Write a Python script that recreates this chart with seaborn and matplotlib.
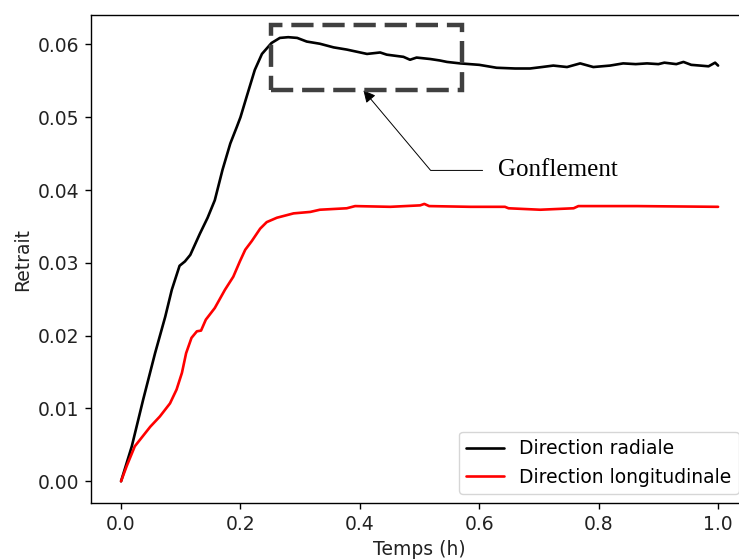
import pandas as pd
import matplotlib
matplotlib.use("Agg")
import matplotlib.pyplot as plt
import matplotlib.patches as patches
import seaborn as sns

# Direction radiale (black curve)
temps_radial = [0.000, 0.018, 0.037, 0.057, 0.074, 0.085, 0.098, 0.107, 0.116, 0.132,
                0.145, 0.157, 0.170, 0.183, 0.194, 0.200, 0.211, 0.224, 0.236, 0.252,
                0.266, 0.280, 0.295, 0.311, 0.333, 0.356, 0.378, 0.412, 0.434, 0.445,
                0.473, 0.484, 0.495, 0.518, 0.534, 0.546, 0.568, 0.600, 0.629, 0.660,
                0.685, 0.705, 0.724, 0.747, 0.769, 0.791, 0.819, 0.841, 0.862, 0.881,
                0.900, 0.910, 0.930, 0.942, 0.955, 0.970, 0.984, 0.995, 1.000]
retrait_radial = [0.0000, 0.0048, 0.0112, 0.0176, 0.0226, 0.0263, 0.0296, 0.0302, 0.0311, 0.0340,
                  0.0362, 0.0386, 0.0428, 0.0464, 0.0487, 0.0500, 0.0530, 0.0565, 0.0587, 0.0602,
                  0.0609, 0.0610, 0.0609, 0.0604, 0.0601, 0.0596, 0.0593, 0.0587, 0.0589, 0.0586,
                  0.0583, 0.0579, 0.0582, 0.0580, 0.0578, 0.0576, 0.0574, 0.0572, 0.0568, 0.0567,
                  0.0567, 0.0569, 0.0571, 0.0569, 0.0574, 0.0569, 0.0571, 0.0574, 0.0573, 0.0574,
                  0.0573, 0.0575, 0.0573, 0.0576, 0.0572, 0.0571, 0.0570, 0.0575, 0.0571]

# Direction longitudinale (red curve)
temps_long = [0.000, 0.0095, 0.023, 0.049, 0.065, 0.082, 0.093, 0.102, 0.109, 0.118,
              0.127, 0.134, 0.142, 0.157, 0.174, 0.188, 0.199, 0.208, 0.219, 0.233,
              0.244, 0.261, 0.289, 0.317, 0.333, 0.378, 0.392, 0.451, 0.501, 0.508,
              0.516, 0.585, 0.643, 0.649, 0.702, 0.758, 0.766, 0.864, 1.000]
retrait_long = [0.0000, 0.0021, 0.0048, 0.0075, 0.0089, 0.0107, 0.0126, 0.0149, 0.0176, 0.0197,
                0.0206, 0.0207, 0.0222, 0.0238, 0.0263, 0.0281, 0.0302, 0.0318, 0.0330, 0.0347,
                0.0356, 0.0362, 0.0368, 0.0370, 0.0373, 0.0375, 0.0378, 0.0377, 0.0379, 0.0381,
                0.0378, 0.0377, 0.0377, 0.0375, 0.0373, 0.0375, 0.0378, 0.0378, 0.0377]

labels = ["Direction radiale", "Direction longitudinale"]

df = pd.concat([
    pd.DataFrame({"temps": temps_radial, "retrait": retrait_radial, "direction": labels[0]}),
    pd.DataFrame({"temps": temps_long, "retrait": retrait_long, "direction": labels[1]}),
], ignore_index=True)

fs = 13.5

sns.set_style("ticks")
plt.rcParams.update({
    "font.family": ["DejaVu Sans"],
    "font.size": fs,
    "text.color": "black",
    "axes.labelcolor": "#222222",
    "axes.edgecolor": "black",
    "axes.linewidth": 1.0,
    "xtick.color": "black",
    "ytick.color": "black",
    "xtick.labelcolor": "#222222",
    "ytick.labelcolor": "#222222",
    "xtick.major.size": 4.2,
    "ytick.major.size": 4.2,
    "xtick.major.width": 1.0,
    "ytick.major.width": 1.0,
    "xtick.major.pad": 4.2,
    "ytick.major.pad": 4.2,
})

fig = plt.figure(figsize=(7.39, 5.59), dpi=100)
ax = fig.add_axes([0.1234, 0.0993, 0.8887, 0.8739])

sns.lineplot(data=df, x="temps", y="retrait", hue="direction",
             palette={labels[0]: "black", labels[1]: "red"},
             estimator=None, sort=False, linewidth=1.9, ax=ax)

ax.set_xlim(-0.05, 1.05)
ax.set_xticks([0.0, 0.2, 0.4, 0.6, 0.8, 1.0])
ax.set_yticks([0.00, 0.01, 0.02, 0.03, 0.04, 0.05, 0.06])
ax.set_xlabel("Temps (h)", fontsize=fs)
ax.set_ylabel("Retrait", fontsize=fs)
ax.tick_params(labelsize=fs)

handles, lbls = ax.get_legend_handles_labels()
ax.legend(handles, lbls, loc="lower right", fontsize=fs, title=None,
          frameon=True, edgecolor="0.8", fancybox=True, framealpha=0.8)

# dashed box around the swelling zone
box = patches.Rectangle((0.2508, 0.05376), 0.5717 - 0.2508, 0.06267 - 0.05376,
                        fill=False, edgecolor="#404040", linewidth=3.2,
                        linestyle=(0, (5, 2)), zorder=5)
ax.add_patch(box)

ax.annotate("Gonflement", xy=(0.406, 0.0537), xytext=(0.632, 0.0427),
            fontsize=18, family="Liberation Serif", va="center", ha="left",
            arrowprops=dict(arrowstyle="-|>", color="black", lw=0.7,
                            connectionstyle="angle,angleA=0,angleB=-50,rad=0",
                            relpos=(0, 0.5), shrinkA=9, shrinkB=0))

plt.savefig("out.png", dpi=100)
